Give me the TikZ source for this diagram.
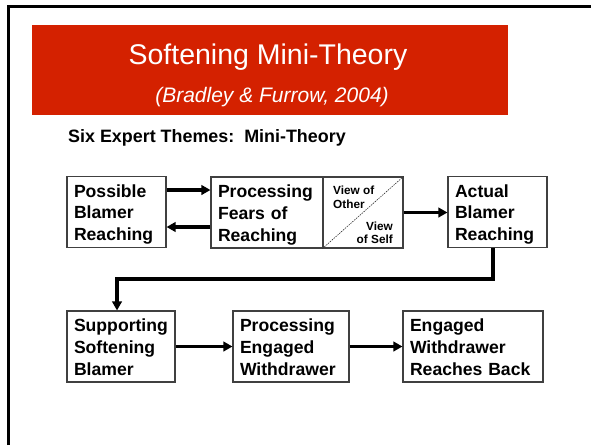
\documentclass[tikz,border=0pt]{standalone}
\usepackage{fontspec}
\setmainfont{Liberation Sans}
\usetikzlibrary{arrows.meta}
\definecolor{bannerred}{RGB}{212,33,0}

\begin{document}
\begin{tikzpicture}[x=1pt, y=-1pt,
    stage/.style={draw=black!75, line width=1.1pt, align=left, inner xsep=7pt, inner ysep=0pt,
        minimum height=71pt, font=\fontsize{17.6}{21.7}\selectfont\bfseries,
        execute at begin node={\rule{0pt}{18pt}}, execute at end node={\rule[-4.4pt]{0pt}{0pt}}},
    flow/.style={line width=3.2pt, -{Triangle[length=9pt,width=9.5pt]}},
    small/.style={font=\fontsize{11.8}{13.5}\selectfont\bfseries, inner sep=0pt}]
    \useasboundingbox (0,0) rectangle (591,445);

    \draw [line width=2.6pt] (8.5,445) -- (8.5,6.5) -- (591,6.5);
    \fill [color=bannerred] (32,25) rectangle (508,115);

    \node (title) [text=white, font=\fontsize{28.5}{30}\selectfont] at (268,57) {Softening Mini-Theory};
    \node (cite) [text=white, font=\fontsize{21}{24}\selectfont\itshape] at (272,97) {(Bradley \& Furrow, 2004)};
    \node (themes) [anchor=west, inner sep=0pt, font=\fontsize{17.9}{20}\selectfont\bfseries] at (68,138) {Six Expert Themes:\ \ Mini-Theory};

    \node (possible) [stage, text width=85pt] at (116.5,212) {Possible\\Blamer\\Reaching};
    \node (fears) [stage, text width=98pt] at (267,212.5) {Processing\\Fears of\\Reaching};
    \node (view) [draw=black!75, line width=1.1pt, minimum width=80pt, minimum height=71pt] at (363,212.5) {};
    \node (actual) [stage, text width=85pt] at (497.5,212) {Actual\\Blamer\\Reaching};

    \node (supporting) [stage, text width=94pt] at (121,346.5) {Supporting\\Softening\\Blamer};
    \node (engaged) [stage, text width=102pt] at (291,346.5) {Processing\\Engaged\\Withdrawer};
    \node (reaches) [stage, text width=126pt] at (473,346.5) {Engaged\\Withdrawer\\Reaches Back};

    \draw [black!80, line width=0.6pt, dash pattern=on 1.5pt off 1pt] (view.south west) -- (view.north east);
    \node (other) [small, anchor=north west, align=left] at (333,186) {View of\\Other};
    \node (self) [small, anchor=south east, align=right] at (393,244) {View\\of Self};

    \draw [flow] ([yshift=22pt]possible.east) -- ([yshift=22.5pt]fears.west);
    \draw [flow] ([yshift=-14.5pt]fears.west) -- ([yshift=-15pt]possible.east);
    \draw [flow] (view.east) -- (view.east -| actual.west);
    \coordinate (turn) at (300,279);
    \draw [flow] ([xshift=-4.5pt]actual.south) |- (turn) -| ([xshift=-4pt]supporting.north);
    \draw [flow] (supporting) -- (engaged);
    \draw [flow] (engaged) -- (reaches);
\end{tikzpicture}
\end{document}
